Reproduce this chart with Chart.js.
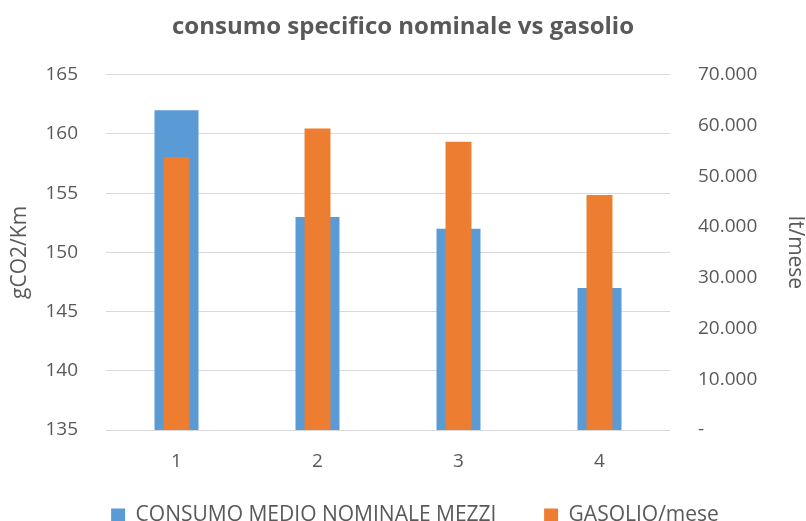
<!DOCTYPE html>
<html>
<head>
<meta charset="utf-8">
<script src="https://cdn.jsdelivr.net/npm/chart.js@4/dist/chart.umd.min.js"></script>
<style>
  body { margin: 0; background: #fff; }
</style>
</head>
<body>
<canvas id="chart" width="806" height="521"></canvas>
<script>
const categories = ['1', '2', '3', '4'];
const consumoMedio = [162, 153, 152, 147];
const gasolioMese = [53800, 59400, 56800, 46300];

const textColor = '#595959';
const fontFamily = "'Open Sans', 'Liberation Sans', sans-serif";

// 70000 -> "70.000", 0 -> "-"
const formatLitres = (v) => v === 0 ? '-' : String(v).replace(/\B(?=(\d{3})+(?!\d))/g, '.');

// the original legend sits a little right of centre
const nudgeLegend = {
    id: 'nudgeLegend',
    afterLayout(chart) {
        chart.legend.left += 12;
        chart.legend.right += 12;
    }
};

const ctx = document.getElementById('chart').getContext('2d');
new Chart(ctx, {
    type: 'bar',
    data: {
        labels: categories,
        datasets: [{
            label: 'CONSUMO MEDIO NOMINALE MEZZI',
            data: consumoMedio,
            backgroundColor: '#5B9BD5',
            yAxisID: 'y',
            barPercentage: 0.312,
            categoryPercentage: 1,
            grouped: false,
            order: 2
        }, {
            label: 'GASOLIO/mese',
            data: gasolioMese,
            backgroundColor: '#ED7D31',
            yAxisID: 'y1',
            barPercentage: 0.184,
            categoryPercentage: 1,
            grouped: false,
            order: 1
        }]
    },
    plugins: [nudgeLegend],
    options: {
        responsive: false,
        animation: false,
        layout: { padding: { top: 0, left: 0, right: 0, bottom: -15 } },
        plugins: {
            title: {
                display: true,
                text: 'consumo specifico nominale vs gasolio',
                color: textColor,
                font: { family: fontFamily, size: 24, weight: 'bold' },
                padding: { top: 13, bottom: 33 }
            },
            legend: {
                position: 'bottom',
                labels: {
                    color: textColor,
                    font: { family: fontFamily, size: 21 },
                    boxWidth: 14,
                    boxHeight: 14,
                    padding: 4,
                    sort: (a, b) => a.datasetIndex - b.datasetIndex,
                    generateLabels: (chart) => {
                        const items = Chart.defaults.plugins.legend.labels.generateLabels(chart);
                        // wider gap between the two entries, like the original
                        items.forEach((it) => { if (it.datasetIndex === 0) it.text += '        '; });
                        return items;
                    }
                }
            },
            tooltip: { enabled: false }
        },
        scales: {
            x: {
                grid: { display: false },
                border: { display: false },
                ticks: { color: textColor, font: { family: fontFamily, size: 19 }, padding: 12 },
                afterFit: (scale) => { scale.height = 71; }
            },
            y: {
                position: 'left',
                min: 135,
                max: 165,
                ticks: { stepSize: 5, color: textColor, font: { family: fontFamily, size: 19 }, padding: 28 },
                grid: { color: '#d9d9d9', lineWidth: 1, drawTicks: false },
                border: { display: false },
                title: {
                    display: true, text: 'gCO2/Km', color: textColor,
                    font: { family: fontFamily, size: 21, lineHeight: 1 },
                    padding: { top: 10, bottom: 0 }
                },
                afterFit: (scale) => { scale.width = 106; }
            },
            y1: {
                position: 'right',
                min: 0,
                max: 70000,
                ticks: {
                    stepSize: 10000,
                    color: textColor,
                    font: { family: fontFamily, size: 19 },
                    padding: 28,
                    callback: (v) => formatLitres(v)
                },
                grid: { display: false, drawTicks: false },
                border: { display: false },
                title: {
                    display: true, text: 'lt/mese', color: textColor,
                    font: { family: fontFamily, size: 21, lineHeight: 1 },
                    padding: { top: 1, bottom: 0 }
                },
                afterFit: (scale) => { scale.width = 136; }
            }
        }
    }
});
</script>
</body>
</html>
